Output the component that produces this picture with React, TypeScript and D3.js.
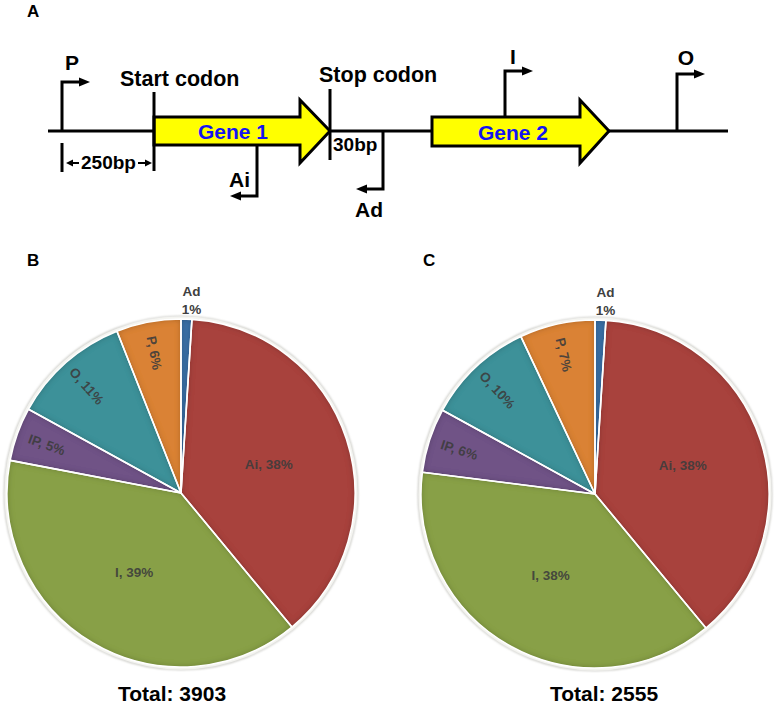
import React from "react";
import * as d3 from "d3";

const categories = ["Ad", "Ai", "I", "IP", "O", "P"];
const valuesB = [1, 38, 39, 5, 11, 6];
const valuesC = [1, 38, 38, 6, 10, 7];
const totalB = 3903;
const totalC = 2555;
const sliceColors = ["#3b6fa6", "#a8433c", "#88a047", "#6f5386", "#3e9199", "#da8234"];

const FONT = "'Liberation Sans', Arial, Helvetica, sans-serif";
const W = 778;
const H = 708;

type PieProps = { id: string; cx: number; cy: number; r: number; values: number[]; total: number; totalX: number; letter: string; letterX: number };

function Pie({ id, cx, cy, r, values, total, totalX, letter, letterX }: PieProps) {
  const pie = d3.pie<number>().sort(null).value((d) => d).startAngle(0).endAngle(2 * Math.PI);
  const arcs = pie(values);
  const arcGen = d3.arc<d3.PieArcDatum<number>>().innerRadius(0).outerRadius(r);
  const sum = d3.sum(values);
  return (
    <g>
      <text x={letterX} y={266} fontFamily={FONT} fontWeight="bold" fontSize={17}>{letter}</text>
      <g transform={`translate(${cx},${cy})`}>
        <circle r={r + 2.5} fill="none" stroke="#b0b0a8" strokeWidth={1.2} filter={`url(#shadow-${id})`} />
        <circle r={r + 1.2} fill="none" stroke="#f4f4f0" strokeWidth={2.4} />
        {arcs.map((a, i) => (
          <path key={"s" + i} d={arcGen(a) || ""} fill={sliceColors[i]} filter={`url(#bevel-${id})`} />
        ))}
        {arcs.map((a, i) => (
          <path key={"w" + i} d={arcGen(a) || ""} fill="none" stroke="#ffffff" strokeWidth={1.6} strokeLinejoin="round" />
        ))}
        {arcs.map((a, i) => {
          const mid = (a.startAngle + a.endAngle) / 2;
          const deg = (mid * 180) / Math.PI;
          const pct = Math.round((a.data / sum) * 100);
          const cat = categories[i];
          if (cat === "Ad") {
            const x = Math.sin(mid) * r + 5;
            const y = -r;
            return (
              <text key={"l" + i} textAnchor="middle" fontFamily={FONT} fontWeight="bold" fontSize={13.5} fill="#404040">
                <tspan x={x} y={y - 23}>{cat}</tspan>
                <tspan x={x} y={y - 5}>{pct}%</tspan>
              </text>
            );
          }
          const big = a.data / sum > 0.2;
          const rr = big ? r * 0.53 : r * 0.82;
          const x = Math.sin(mid) * rr;
          const y = -Math.cos(mid) * rr;
          const rot = big ? 0 : deg - 270;
          return (
            <text
              key={"l" + i}
              transform={`translate(${x},${y}) rotate(${rot})`}
              textAnchor="middle"
              dy="0.35em"
              fontFamily={FONT}
              fontWeight="bold"
              fontSize={13.5}
              fill="#3c3c3c"
              fillOpacity={0.9}
            >
              {`${cat}, ${pct}%`}
            </text>
          );
        })}
      </g>
      <text x={totalX} y={701} textAnchor="middle" fontFamily={FONT} fontWeight="bold" fontSize={21}>
        {`Total: ${total}`}
      </text>
    </g>
  );
}

function Tri({ x, y, dir }: { x: number; y: number; dir: "r" | "l" }) {
  const s = dir === "r" ? 1 : -1;
  const pts = `${x},${y} ${x - s * 11},${y - 4.5} ${x - s * 11},${y + 4.5}`;
  return <polygon points={pts} fill="#000" />;
}

function Diagram() {
  const sw = 3;
  const gene1 = "154,117 300,117 300,100 330,131 300,163 300,145 154,145";
  const gene2 = "432,117 580,117 580,100 609,131 580,163 580,146 432,146";
  return (
    <g fontFamily={FONT} fontWeight="bold">
      <text x={27} y={17} fontSize={17}>A</text>
      <line x1={48} y1={131} x2={728} y2={131} stroke="#000" strokeWidth={sw} />
      <polyline points="62,131 62,82 80,82" fill="none" stroke="#000" strokeWidth={sw} />
      <Tri x={90} y={82} dir="r" />
      <text x={65} y={70} fontSize={21}>P</text>
      <line x1={62} y1={143} x2={62} y2={172} stroke="#000" strokeWidth={sw} />
      <line x1={72} y1={163} x2={79} y2={163} stroke="#000" strokeWidth={2} />
      <polygon points="66,163 73,159.5 73,166.5" fill="#000" />
      <line x1={138} y1={163} x2={145} y2={163} stroke="#000" strokeWidth={2} />
      <polygon points="152,163 145,159.5 145,166.5" fill="#000" />
      <text x={108.5} y={169} fontSize={19} textAnchor="middle">250bp</text>
      <polygon points={gene1} fill="#ffff00" stroke="#000" strokeWidth={sw} strokeLinejoin="miter" />
      <line x1={154} y1={92} x2={154} y2={171} stroke="#000" strokeWidth={sw} />
      <text x={233} y={139} fontSize={21} fill="#1414f0" textAnchor="middle">Gene 1</text>
      <text x={120} y={86} fontSize={21.5}>Start codon</text>
      <polyline points="257,145 257,196 240,196" fill="none" stroke="#000" strokeWidth={sw} />
      <Tri x={230} y={196} dir="l" />
      <text x={229} y={187} fontSize={21}>Ai</text>
      <line x1={330} y1={89} x2={330} y2={160} stroke="#000" strokeWidth={sw} />
      <text x={319} y={82} fontSize={21.5}>Stop codon</text>
      <text x={333} y={151} fontSize={19}>30bp</text>
      <polyline points="383,131 383,189 366,189" fill="none" stroke="#000" strokeWidth={sw} />
      <Tri x={356} y={189} dir="l" />
      <text x={355} y={217} fontSize={21}>Ad</text>
      <polygon points={gene2} fill="#ffff00" stroke="#000" strokeWidth={sw} strokeLinejoin="miter" />
      <text x={513} y={140} fontSize={21} fill="#1414f0" textAnchor="middle">Gene 2</text>
      <polyline points="505,117 505,71 523,71" fill="none" stroke="#000" strokeWidth={sw} />
      <Tri x={533} y={71} dir="r" />
      <text x={513} y={64} fontSize={21} textAnchor="middle">I</text>
      <polyline points="677,131 677,74 695,74" fill="none" stroke="#000" strokeWidth={sw} />
      <Tri x={705} y={74} dir="r" />
      <text x={686} y={65} fontSize={21} textAnchor="middle">O</text>
    </g>
  );
}

export default function App() {
  return (
    <svg width={W} height={H} viewBox={`0 0 ${W} ${H}`} style={{ position: "absolute", left: 0, top: 0, display: "block", background: "#fff" }}>
      <defs>
        {["B", "C"].map((id) => (
          <React.Fragment key={id}>
            <filter id={`bevel-${id}`} x="-10%" y="-10%" width="120%" height="120%">
              <feGaussianBlur in="SourceAlpha" stdDeviation="3" result="blur" />
              <feComposite in="SourceAlpha" in2="blur" operator="out" result="edge" />
              <feFlood floodColor="#000" floodOpacity="0.5" result="flood" />
              <feComposite in="flood" in2="edge" operator="in" result="shadow" />
              <feMerge>
                <feMergeNode in="SourceGraphic" />
                <feMergeNode in="shadow" />
              </feMerge>
            </filter>
            <filter id={`shadow-${id}`} x="-10%" y="-10%" width="120%" height="120%">
              <feGaussianBlur stdDeviation="1" />
            </filter>
          </React.Fragment>
        ))}
      </defs>
      <rect width={W} height={H} fill="#fff" />
      <Diagram />
      <Pie id="B" cx={181} cy={493} r={174} values={valuesB} total={totalB} totalX={172} letter="B" letterX={27} />
      <Pie id="C" cx={595} cy={494} r={174} values={valuesC} total={totalC} totalX={604} letter="C" letterX={423} />
    </svg>
  );
}
